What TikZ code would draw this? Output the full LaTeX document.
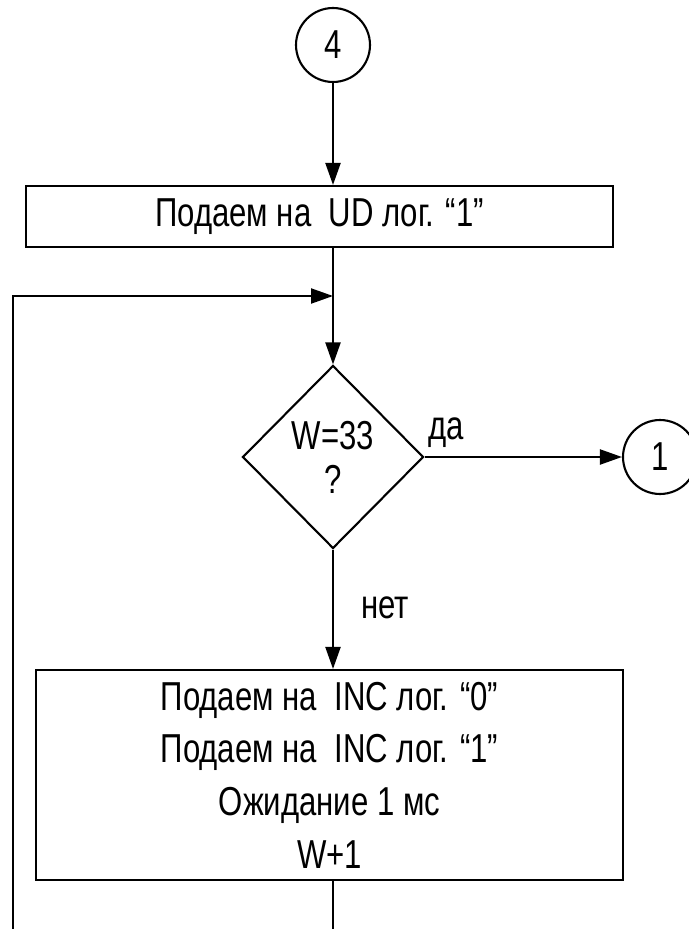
\documentclass[tikz,border=0pt]{standalone}
\usepackage{fontspec}
\setmainfont[FakeStretch=0.77]{Liberation Sans}
\usetikzlibrary{positioning, shapes.geometric, arrows.meta}

\begin{document}
\begin{tikzpicture}[x=0.02cm, y=-0.02cm, line width=1.2pt,
  font=\fontsize{23}{30}\selectfont,
  conn/.style={draw, circle, minimum size=1.48cm, inner sep=0pt},
  proc/.style={draw, rectangle, minimum width=11.74cm, align=center, inner sep=0pt},
  cond/.style={draw, diamond, minimum width=3.62cm, minimum height=3.66cm, inner sep=0pt, align=center},
  flow/.style={-{Triangle[length=4.4mm, width=3mm]}}]

\useasboundingbox (0,0) rectangle (689,929);

% connector in and first block
\node[conn] (start) at (333,45) {4};
\node[proc, minimum height=1.22cm] (setud) at (319.5,216.5) {Подаем на\ \ UD лог. “1”};

% loop check
\node[cond] (check) at (333,457) {W=33\\[-5pt]?};
\node[conn] (exit1) at (660,457) {1};
\node (yes) at (446,433) {да};
\node (no) at (385,608) {нет};

% loop body
\node[proc, minimum height=4.2cm] (step) at (329.5,775)
  {Подаем на\ \ INC лог. “0”\\Подаем на\ \ INC лог. “1”\\Ожидание 1 мс\\W+1};

\coordinate (join) at (333,296);
\coordinate (back) at (13,929);
\coordinate (out) at (333,929);

\draw[flow] (start) -- (start |- setud.north);
\draw[flow] (start |- setud.south) -- (check.north);
\draw[flow] (back) |- (join);
\draw[flow] (check.east) -- (exit1.west);
\draw[flow] (check.south) -- (check.south |- step.north);
\draw (check.south |- step.south) -- (out);

\end{tikzpicture}
\end{document}
